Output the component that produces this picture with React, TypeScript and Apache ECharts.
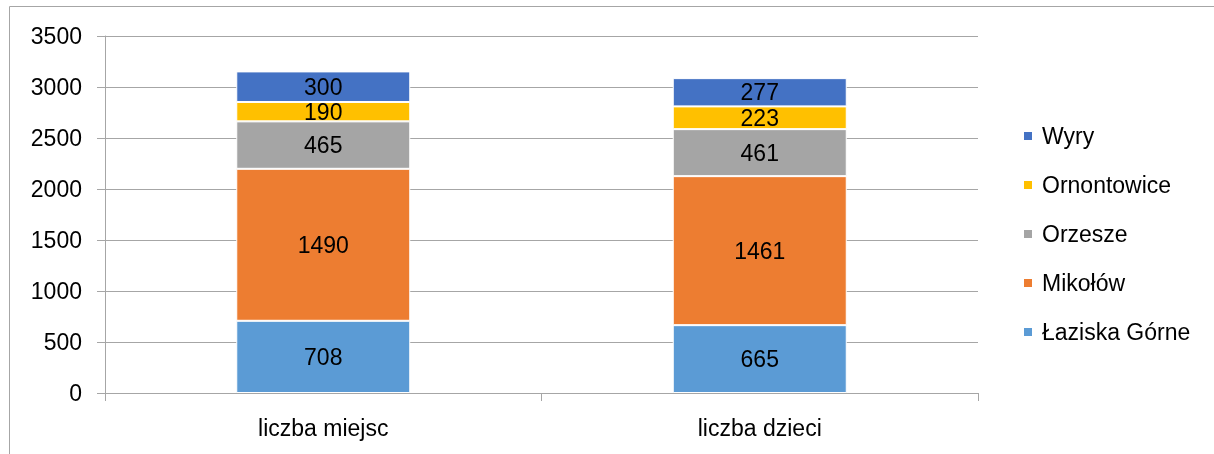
import React, { useEffect, useRef } from "react";
import * as echarts from "echarts";

const categories = ["liczba miejsc", "liczba dzieci"];
const lazWartosci = [708, 665];
const mikolowWartosci = [1490, 1461];
const orzeszeWartosci = [465, 461];
const ornontowiceWartosci = [190, 223];
const wyryWartosci = [300, 277];
const seriesNames = ["Łaziska Górne", "Mikołów", "Orzesze", "Ornontowice", "Wyry"];
const seriesColors = ["#5B9BD5", "#ED7D31", "#A5A5A5", "#FFC000", "#4472C4"];
const legendOrder = ["Wyry", "Ornontowice", "Orzesze", "Mikołów", "Łaziska Górne"];

const FONT = "'Liberation Sans', 'DejaVu Sans', sans-serif";
const FS = 23;

export default function App() {
  const ref = useRef<HTMLDivElement>(null);
  useEffect(() => {
    if (!ref.current) return;
    const chart = echarts.init(ref.current, null, { renderer: "svg" });
    const values = [lazWartosci, mikolowWartosci, orzeszeWartosci, ornontowiceWartosci, wyryWartosci];
    chart.setOption({
      animation: false,
      textStyle: { fontFamily: FONT },
      grid: { left: 105, right: 236, top: 36, bottom: 61, containLabel: false },
      graphic: [
        {
          type: "rect",
          shape: { x: 9.5, y: 6.5, width: 1220, height: 460 },
          style: { fill: "none", stroke: "#a6a6a6", lineWidth: 1 },
          silent: true,
        },
      ],
      legend: {
        orient: "vertical",
        left: 1017,
        top: 119,
        itemWidth: 10,
        itemHeight: 10,
        itemGap: 25,
        icon: "rect",
        data: legendOrder,
        textStyle: {
          fontSize: FS,
          color: "#000",
          fontFamily: FONT,
          lineHeight: 24,
          padding: [0, 0, 0, 4],
        },
      },
      xAxis: {
        type: "category",
        data: categories,
        axisLine: { lineStyle: { color: "#a6a6a6" } },
        axisTick: { show: true, length: 8, lineStyle: { color: "#a6a6a6" } },
        axisLabel: { fontSize: FS, color: "#000", margin: 23, fontFamily: FONT },
      },
      yAxis: {
        type: "value",
        min: 0,
        max: 3500,
        interval: 500,
        axisLine: { show: true, lineStyle: { color: "#a6a6a6" } },
        axisTick: { show: true, length: 8, lineStyle: { color: "#a6a6a6" } },
        splitLine: { lineStyle: { color: "#a6a6a6" } },
        axisLabel: {
          fontSize: FS,
          color: "#000",
          margin: 23,
          fontFamily: FONT,
          formatter: (v: number) => String(v),
        },
      },
      series: seriesNames.map((name, i) => ({
        name,
        type: "bar",
        stack: "total",
        barWidth: 174,
        data: values[i],
        itemStyle: { color: seriesColors[i], borderColor: "#fff", borderWidth: 1 },
        label: {
          show: true,
          position: "inside",
          color: "#000",
          fontSize: FS,
          fontFamily: FONT,
        },
      })),
    });
    return () => chart.dispose();
  }, []);
  return (
    <div
      ref={ref}
      style={{ position: "fixed", left: 0, top: 0, width: 1214, height: 454 }}
    />
  );
}
